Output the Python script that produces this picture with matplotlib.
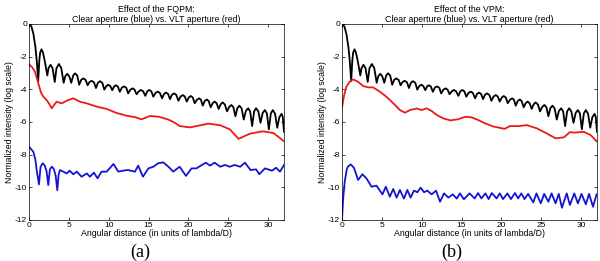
import matplotlib
matplotlib.use('Agg')
import matplotlib.pyplot as plt

plt.rcParams['font.family'] = ['Liberation Sans', 'DejaVu Sans']
plt.rcParams['axes.unicode_minus'] = False

# VLT aperture without coronagraph (same in both panels)
black_x = [0, 0.3, 0.55, 0.8, 1.0, 1.15, 1.3, 1.4, 1.57, 1.75, 1.95, 2.3, 2.45, 2.7, 2.95,
           3.23, 3.45, 3.75, 4.05, 4.35, 4.55, 4.8, 5.05, 5.3, 5.55, 5.78, 6.05, 6.3, 6.55,
           6.8, 7.1, 7.35, 7.6, 7.85, 8.15, 8.4, 8.65, 8.9, 9.2, 9.45, 9.7, 9.95, 10.2,
           10.45, 10.68, 10.9, 11.15, 11.4, 11.65, 11.9, 12.2, 12.45, 12.72, 13.0, 13.25,
           13.5, 13.78, 14.05, 14.32, 14.6, 14.85, 15.1, 15.35, 15.6, 15.88, 16.15, 16.42,
           16.7, 16.95, 17.2, 17.45, 17.7, 17.95, 18.2, 18.48, 18.75, 19.02, 19.3, 19.55,
           19.8, 20.05, 20.3, 20.55, 20.8, 21.08, 21.35, 21.58, 21.8, 22.05, 22.3, 22.55,
           22.8, 23.05, 23.3, 23.55, 23.8, 24.05, 24.3, 24.58, 24.85, 25.12, 25.4, 25.65,
           25.9, 26.15, 26.4, 26.68, 26.95, 27.22, 27.5, 27.75, 28.0, 28.25, 28.5, 28.78,
           29.05, 29.32, 29.6, 29.85, 30.1, 30.35, 30.6, 30.88, 31.15, 31.42, 31.7, 31.85,
           32.0]
black_y = [0, -0.15, -0.6, -1.4, -2.4, -3.5, -2.2, -1.75, -1.55, -1.75, -2.2, -3.15, -2.7,
           -2.5, -2.7, -3.55, -2.7, -2.45, -2.7, -3.6, -3.2, -3.05, -3.2, -3.6, -3.15, -3.02,
           -3.15, -3.72, -3.42, -3.33, -3.42, -3.75, -3.55, -3.48, -3.57, -3.92, -3.6, -3.5,
           -3.6, -4.02, -3.8, -3.72, -3.8, -4.05, -3.82, -3.75, -3.83, -4.15, -3.9, -3.82,
           -3.9, -4.25, -4.02, -3.94, -4.02, -4.3, -4.12, -4.04, -4.12, -4.4, -4.12, -4.04,
           -4.12, -4.45, -4.22, -4.14, -4.22, -4.55, -4.28, -4.2, -4.28, -4.6, -4.33, -4.25,
           -4.34, -4.7, -4.44, -4.35, -4.44, -4.75, -4.5, -4.41, -4.5, -4.85, -4.64, -4.55,
           -4.64, -5.0, -4.72, -4.62, -4.72, -5.1, -4.85, -4.75, -4.86, -5.2, -4.92, -4.8,
           -4.93, -5.35, -5.08, -4.96, -5.1, -5.65, -5.15, -5.0, -5.17, -5.85, -5.32, -5.16,
           -5.35, -6.25, -5.35, -5.16, -5.35, -6.05, -5.45, -5.27, -5.47, -6.45, -5.47,
           -5.27, -5.5, -6.35, -5.7, -5.5, -5.7, -6.6]

# FQPM
fqpm_red_x = [0, 0.4, 0.75, 1.17, 1.5, 1.8, 2.2, 2.55, 2.85, 3.15, 3.47, 4.1, 4.73, 5.56,
              6.4, 7.24, 8.5, 9.75, 11.0, 12.3, 13.3, 14.1, 15.2, 16.3, 17.5, 18.3, 18.9,
              20.2, 21.0, 22.5, 24.0, 25.2, 26.3, 27.7, 29.3, 30.7, 32.0]
fqpm_red_y = [-2.47, -2.65, -2.92, -3.63, -4.2, -4.45, -4.65, -4.9, -5.16, -4.95, -4.76,
              -4.86, -4.7, -4.55, -4.76, -4.86, -5.06, -5.2, -5.45, -5.62, -5.7, -5.84,
              -5.63, -5.68, -5.85, -6.05, -6.25, -6.33, -6.25, -6.1, -6.2, -6.45, -7.03,
              -6.72, -6.57, -6.68, -7.18]
fqpm_blue_x = [0, 0.54, 0.8, 0.96, 1.25, 1.45, 1.71, 1.96, 2.2, 2.42, 2.62, 2.85, 3.1, 3.35,
               3.55, 3.72, 3.89, 4.3, 4.73, 5.1, 5.56, 6.0, 6.6, 7.24, 7.65, 8.15, 8.6, 9.1,
               9.75, 10.6, 11.2, 11.8, 12.4, 13.3, 13.7, 14.3, 14.98, 15.6, 16.2, 16.85,
               17.5, 18.1, 18.9, 19.7, 20.4, 21.0, 21.7, 22.2, 22.7, 23.3, 24.0, 24.6, 25.2,
               25.8, 26.5, 27.1, 27.8, 28.5, 28.9, 29.6, 30.5, 31.0, 31.5, 32.0]
fqpm_blue_y = [-7.51, -7.82, -8.3, -8.94, -9.82, -8.75, -8.53, -8.65, -9.0, -9.86, -8.9,
               -8.74, -8.85, -9.3, -10.17, -9.2, -8.94, -9.04, -9.15, -8.98, -9.2, -9.04,
               -9.35, -9.15, -9.35, -9.1, -9.45, -9.04, -9.04, -8.57, -9.04, -8.98, -8.94,
               -9.04, -8.67, -9.35, -8.84, -8.74, -8.53, -8.47, -8.74, -9.04, -8.74, -9.3,
               -8.84, -8.84, -8.63, -8.49, -8.67, -8.49, -8.74, -8.63, -8.74, -8.63, -8.74,
               -8.49, -8.94, -8.9, -9.2, -8.84, -8.98, -8.8, -9.04, -8.63]

# VPM
vpm_red_x = [0, 0.25, 0.55, 0.97, 1.38, 2.0, 2.65, 3.27, 3.9, 4.74, 5.57, 6.45, 7.27, 7.9,
             8.53, 9.37, 10.0, 10.6, 11.25, 11.9, 12.7, 13.6, 14.5, 15.5, 16.3, 17.1, 17.8,
             18.95, 20.4, 21.1, 22.2, 23.2, 24.45, 25.7, 26.8, 27.85, 28.6, 29.2, 30.35,
             31.2, 32.0]
vpm_red_y = [-5.1, -4.4, -3.84, -3.53, -3.39, -3.53, -3.8, -3.88, -3.88, -4.14, -4.45,
             -4.86, -5.27, -5.43, -5.27, -5.17, -5.27, -5.16, -5.33, -5.57, -5.78, -5.9,
             -5.84, -5.68, -5.72, -5.88, -6.05, -6.27, -6.42, -6.25, -6.25, -6.19, -6.39,
             -6.7, -7.0, -6.94, -6.62, -6.65, -6.6, -6.8, -7.2]
vpm_blue_x = [0, 0.13, 0.34, 0.6, 0.76, 1.1, 1.5, 2.02, 2.56, 3.07, 3.7, 4.33, 5.08, 5.5,
              6.0, 6.43, 6.85, 7.27, 7.77, 8.2, 8.6, 9.03, 9.45, 9.87, 10.3, 10.7, 11.25,
              11.8, 12.3, 12.8, 13.35, 13.9, 14.4, 14.8, 15.3, 16.0, 16.65, 17.07, 17.5,
              18.0, 18.4, 18.8, 19.4, 19.8, 20.2, 20.76, 21.2, 21.7, 22.1, 22.5, 22.9,
              23.36, 24.0, 24.4, 24.95, 25.37, 25.9, 26.3, 26.8, 27.2, 27.6, 28.2, 28.6,
              29.15, 29.6, 30.06, 30.6, 31.0, 31.5, 31.95]
vpm_blue_y = [-12.0, -10.78, -9.66, -8.9, -8.72, -8.6, -8.8, -9.55, -9.2, -9.45, -9.96,
              -9.9, -10.43, -9.96, -10.57, -10.1, -10.63, -10.16, -10.69, -10.16, -10.63,
              -10.2, -10.3, -10.02, -10.3, -10.2, -10.43, -10.2, -10.88, -10.37, -10.63,
              -10.43, -10.69, -10.37, -10.73, -10.37, -10.68, -10.35, -10.68, -10.37,
              -10.72, -10.35, -10.68, -10.37, -10.72, -10.37, -10.72, -10.35, -10.68,
              -10.37, -10.72, -10.4, -10.92, -10.37, -10.98, -10.4, -10.88, -10.37, -10.98,
              -10.4, -11.25, -10.37, -11.08, -10.37, -10.98, -10.4, -11.04, -10.4, -11.19,
              -10.43]

titles = ['Effect of the FQPM:\nClear aperture (blue) vs. VLT aperture (red)',
          'Effect of the VPM:\nClear aperture (blue) vs. VLT aperture (red)']
captions = ['(a)', '(b)']
xticks = [0, 5, 10, 15, 20, 25, 30]
yticks = [0, -2, -4, -6, -8, -10, -12]

fig = plt.figure(figsize=(6.0, 2.61), dpi=100)
ax_a = fig.add_axes([29 / 600, 1 - 220 / 261, 255 / 600, 196 / 261])
ax_b = fig.add_axes([342 / 600, 1 - 220 / 261, 255 / 600, 196 / 261])

panels = [
    (ax_a, fqpm_red_x, fqpm_red_y, fqpm_blue_x, fqpm_blue_y),
    (ax_b, vpm_red_x, vpm_red_y, vpm_blue_x, vpm_blue_y),
]
for i, (ax, rx, ry, bx, by) in enumerate(panels):
    ax.plot(black_x, black_y, color='black', lw=1.3)
    ax.plot(rx, ry, color='#ee1818', lw=1.3)
    ax.plot(bx, by, color='#1414d0', lw=1.3)
    ax.set_xlim(0, 32)
    ax.set_ylim(-12, 0)
    ax.set_xticks(xticks)
    ax.set_yticks(yticks)
    ax.tick_params(direction='in', top=True, right=True, labelsize=6,
                   length=2.5, width=0.5, pad=1.5)
    for s in ax.spines.values():
        s.set_linewidth(0.5)
    ax.set_title(titles[i], fontsize=6.3, pad=1.5, linespacing=1.15)
    ax.set_xlabel('Angular distance (in units of lambda/D)', fontsize=6.3, labelpad=0)
    ax.set_ylabel('Normalized intensity (log scale)', fontsize=6.3, labelpad=0.5)

fig.text(140 / 600, 1 - 252 / 261, captions[0], ha='center', va='center',
         fontsize=13, family='Liberation Serif')
fig.text(452 / 600, 1 - 252 / 261, captions[1], ha='center', va='center',
         fontsize=13, family='Liberation Serif')

fig.savefig('out.png', dpi=100)
